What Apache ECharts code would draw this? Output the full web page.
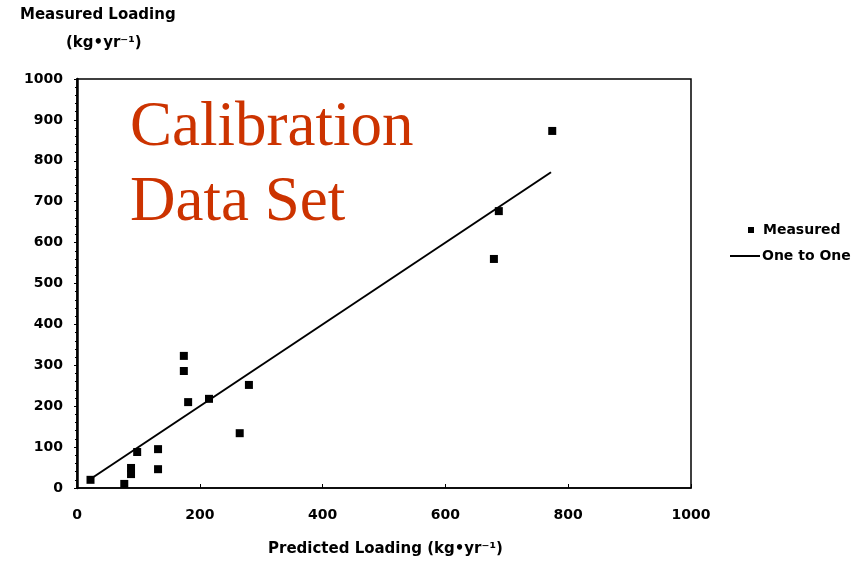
<!DOCTYPE html>
<html>
<head>
<meta charset="utf-8">
<script src="https://cdn.jsdelivr.net/npm/echarts@6/dist/echarts.min.js"></script>
<style>
html,body{margin:0;padding:0;background:#fff;}
#chart{width:863px;height:565px;}
</style>
</head>
<body>
<div id="chart"></div>
<script>
// Data
var predicted = [22, 77, 88, 88, 98, 132, 132, 174, 174, 181, 215, 265, 280, 679, 687, 774];
var measured  = [20, 10, 49, 34, 88, 95, 46, 323, 286, 210, 218, 134, 252, 560, 677, 873];
var oneToOneX = [22, 772];
var oneToOneY = [22, 772];

var scatterData = predicted.map(function (x, i) { return [x, measured[i]]; });
var lineData = oneToOneX.map(function (x, i) { return [x, oneToOneY[i]]; });

var FONT = 'DejaVu Sans';
var plain = function (v) { return String(v); };
var chart = echarts.init(document.getElementById('chart'), null, {renderer: 'canvas'});
chart.setOption({
  backgroundColor: '#ffffff',
  animation: false,
  grid: {left: 77, right: 172, top: 79, bottom: 77, show: true, borderColor: '#000', borderWidth: 1.5, containLabel: false},
  xAxis: {
    type: 'value', min: 0, max: 1000, interval: 200,
    axisLine: {show: true, lineStyle: {color: '#000', width: 1.5}},
    axisTick: {show: true, inside: true, length: 4, lineStyle: {color: '#000'}},
    splitLine: {show: false},
    axisLabel: {color: '#000', fontFamily: FONT, fontWeight: 'bold', fontSize: 14, margin: 20, formatter: plain}
  },
  yAxis: {
    type: 'value', min: 0, max: 1000, interval: 100,
    axisLine: {show: true, lineStyle: {color: '#000', width: 2.5}},
    axisTick: {show: true, length: 3, lineStyle: {color: '#000'}},
    minorTick: {show: true, splitNumber: 5, length: 2, lineStyle: {color: '#000'}},
    splitLine: {show: false},
    axisLabel: {color: '#000', fontFamily: FONT, fontWeight: 'bold', fontSize: 14, margin: 14, formatter: plain}
  },
  legend: [
    {
      orient: 'vertical', left: 743, top: 218, itemWidth: 6, itemHeight: 6,
      data: [{name: 'Measured', icon: 'rect'}],
      textStyle: {color: '#000', fontFamily: FONT, fontWeight: 'bold', fontSize: 14, padding: [0, 0, 0, 4]}
    },
    {
      orient: 'vertical', left: 725, top: 244, itemWidth: 30, itemHeight: 2,
      data: [{name: 'One to One', icon: 'rect'}],
      textStyle: {color: '#000', fontFamily: FONT, fontWeight: 'bold', fontSize: 14, padding: [0, 0, 0, -3]}
    }
  ],
  series: [
    {
      name: 'One to One', type: 'line', data: lineData, symbol: 'none',
      lineStyle: {color: '#000', width: 2}, itemStyle: {color: '#000'}, z: 2
    },
    {
      name: 'Measured', type: 'scatter', data: scatterData, symbol: 'rect', symbolSize: 8,
      itemStyle: {color: '#000', opacity: 1}, z: 3
    }
  ],
  graphic: [
    {type: 'text', left: 20, top: 8, style: {text: 'Measured Loading', fill: '#000', font: 'bold 15px "DejaVu Sans"'}},
    {type: 'text', left: 66, top: 36, style: {text: '(kg•yr⁻¹)', fill: '#000', font: 'bold 15px "DejaVu Sans"'}},
    {type: 'text', left: 268, top: 542, style: {text: 'Predicted Loading (kg•yr⁻¹)', fill: '#000', font: 'bold 15px "DejaVu Sans"'}},
    {type: 'text', left: 130, top: 97, style: {text: 'Calibration', fill: '#CC3300', font: '63px "Liberation Serif"'}},
    {type: 'text', left: 130, top: 172, style: {text: 'Data Set', fill: '#CC3300', font: '63px "Liberation Serif"'}}
  ]
});
</script>
</body>
</html>
